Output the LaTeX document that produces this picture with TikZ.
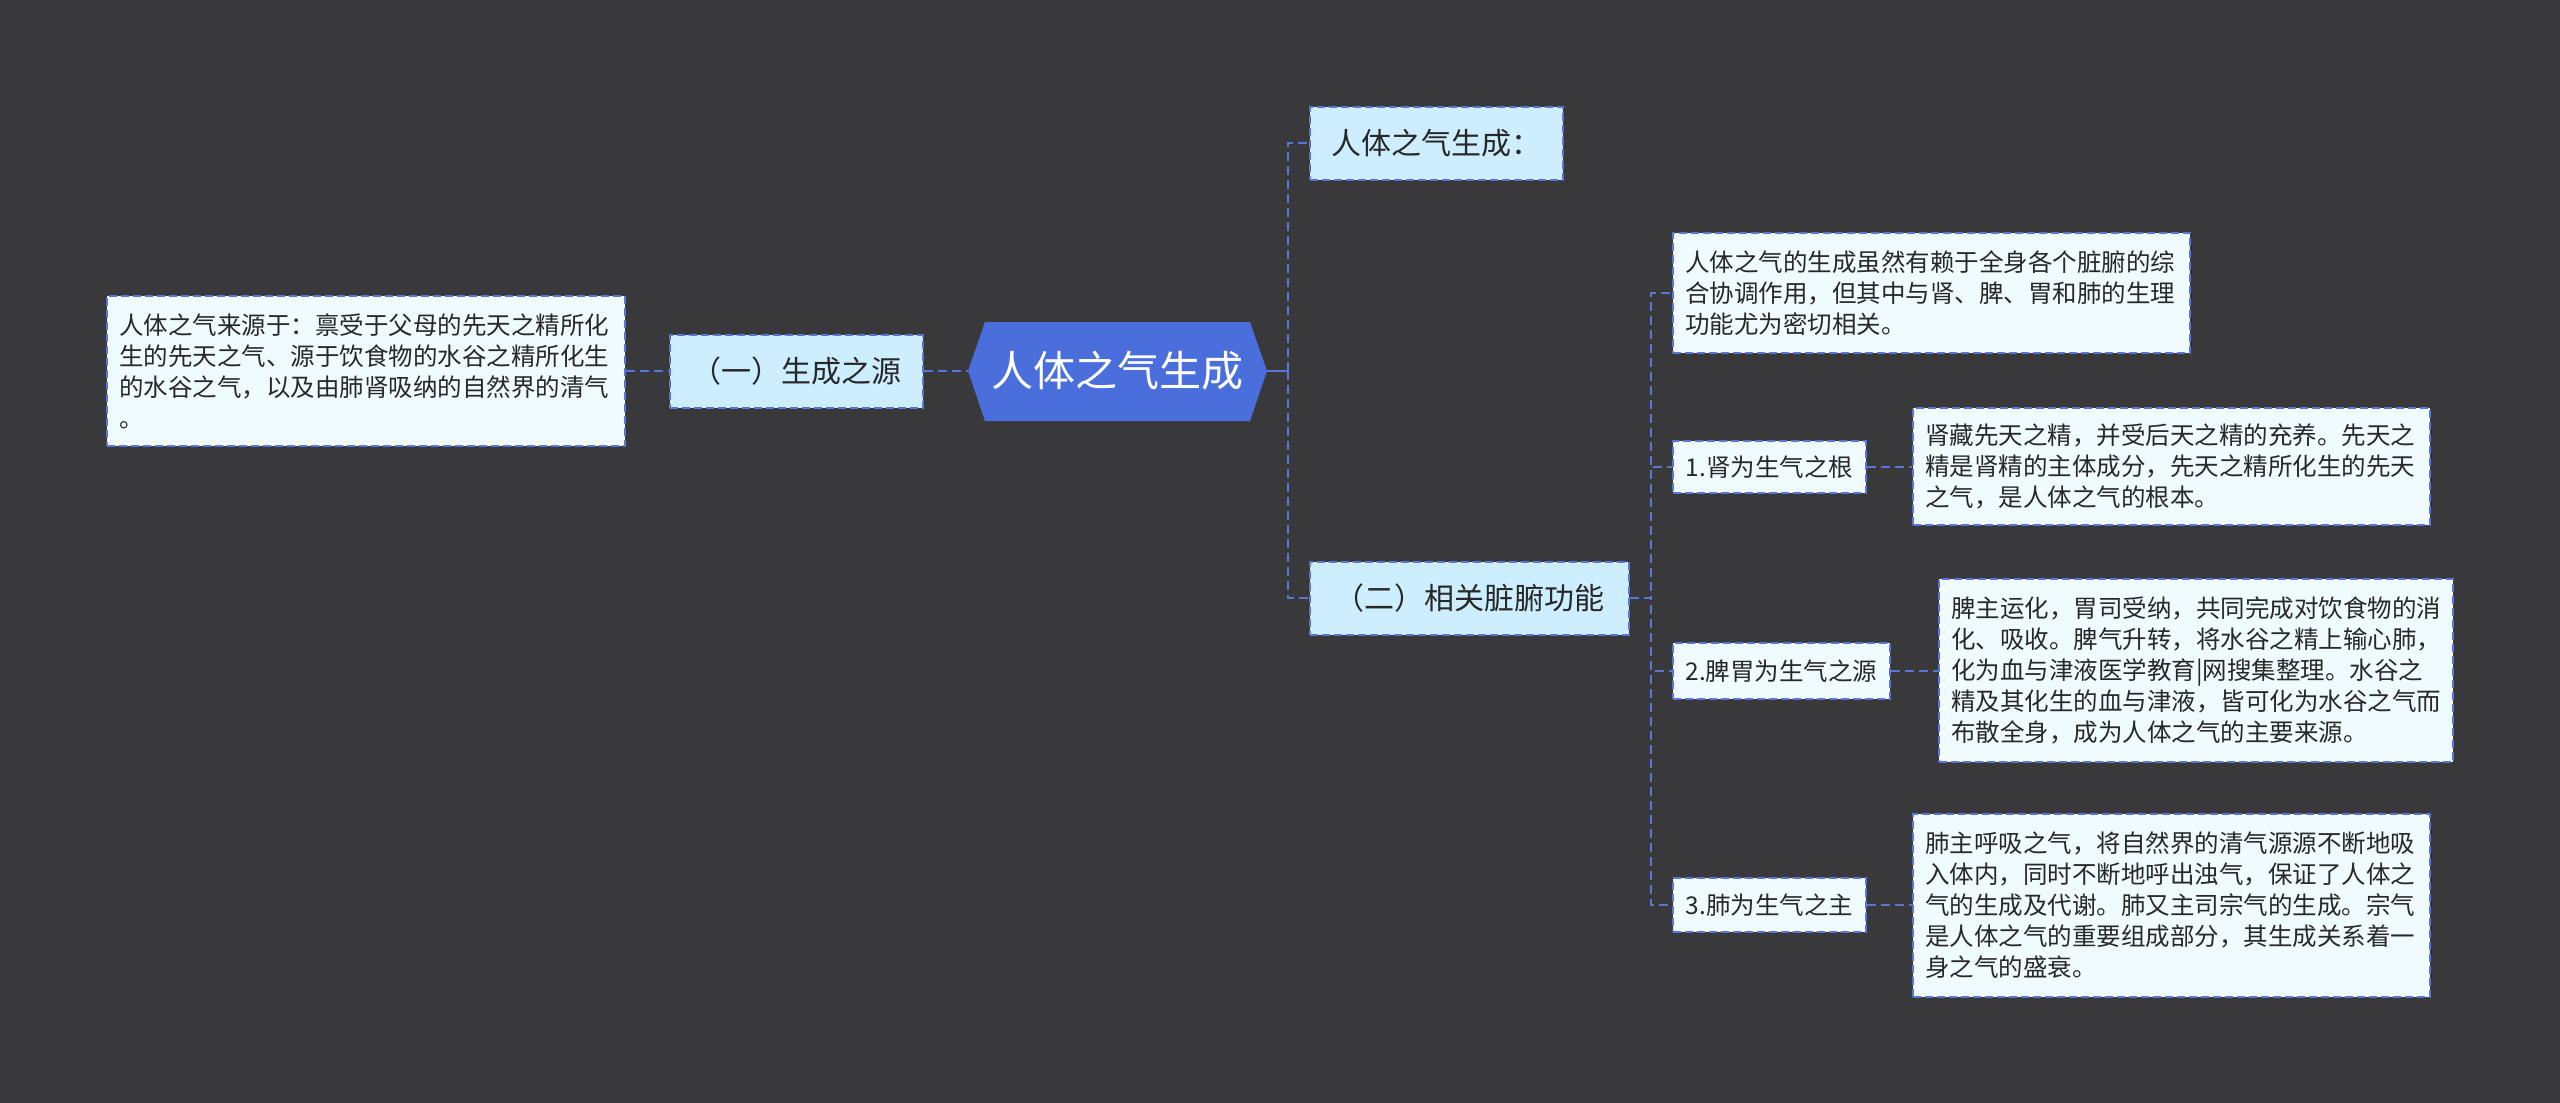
\documentclass[tikz,border=0pt]{standalone}
\usepackage{fontspec}
\setmainfont{Noto Sans CJK SC}
\definecolor{bg}{RGB}{57,56,58}
\definecolor{rootblue}{RGB}{75,110,221}
\definecolor{edge}{RGB}{88,118,216}
\definecolor{branchfill}{RGB}{204,238,255}
\definecolor{leaffill}{RGB}{240,251,255}
\definecolor{ink}{RGB}{40,40,40}

\begin{document}
\begin{tikzpicture}[x=1pt, y=-1pt,
  branch/.style={draw=edge, fill=branchfill, line width=2pt, dash pattern=on 8pt off 4pt, text=ink, font=\fontsize{30}{36}\selectfont, inner sep=0pt, minimum height=73pt, anchor=west},
  leaf/.style={draw=edge, fill=leaffill, line width=2pt, dash pattern=on 8pt off 4pt, text=ink, font=\fontsize{24.5}{31}\selectfont, align=left, inner xsep=12pt, inner ysep=0pt, anchor=west},
  link/.style={draw=edge, line width=2.2pt, dash pattern=on 9pt off 5pt}
]
\fill[bg] (0,0) rectangle (2560,1103);
\useasboundingbox (0,0) rectangle (2560,1103);
% root
\fill[rootblue] (968,371) -- (985,322) -- (1250,322) -- (1267,371) -- (1250,421) -- (985,421) -- cycle;
\node[font=\fontsize{42}{48}\selectfont, text=white, minimum width=299pt, minimum height=99pt, inner sep=0pt] (root) at (1117.5,371) {人体之气生成};
\coordinate (trunk) at (1288,371);
% left side
\node[branch, minimum width=253pt] (src) at (669,371) {（一）生成之源};
\node[leaf, text width=494pt, minimum height=150pt] (srctext) at (106,371) {人体之气来源于：禀受于父母的先天之精所化\\生的先天之气、源于饮食物的水谷之精所化生\\的水谷之气，以及由肺肾吸纳的自然界的清气\\。};
% right side
\node[branch, minimum width=253pt] (gen) at (1309,143) {人体之气生成：};
\node[branch, minimum width=319pt] (organ) at (1309,598) {（二）相关脏腑功能};
\node[leaf, text width=493pt, minimum height=120pt] (intro) at (1672,293) {人体之气的生成虽然有赖于全身各个脏腑的综\\合协调作用，但其中与肾、脾、胃和肺的生理\\功能尤为密切相关。};
\node[leaf, minimum width=193pt, minimum height=52pt] (kidney) at (1672,467) {1.肾为生气之根};
\node[leaf, text width=493pt, minimum height=117pt] (kidneytext) at (1912,466) {肾藏先天之精，并受后天之精的充养。先天之\\精是肾精的主体成分，先天之精所化生的先天\\之气，是人体之气的根本。};
\node[leaf, minimum width=217pt, minimum height=56pt] (spleen) at (1672,671) {2.脾胃为生气之源};
\node[leaf, text width=490pt, minimum height=183pt] (spleentext) at (1938,670) {脾主运化，胃司受纳，共同完成对饮食物的消\\化、吸收。脾气升转，将水谷之精上输心肺，\\化为血与津液医学教育|网搜集整理。水谷之\\精及其化生的血与津液，皆可化为水谷之气而\\布散全身，成为人体之气的主要来源。};
\node[leaf, minimum width=193pt, minimum height=54pt] (lung) at (1672,905) {3.肺为生气之主};
\node[leaf, text width=493pt, minimum height=183pt] (lungtext) at (1912,905) {肺主呼吸之气，将自然界的清气源源不断地吸\\入体内，同时不断地呼出浊气，保证了人体之\\气的生成及代谢。肺又主司宗气的生成。宗气\\是人体之气的重要组成部分，其生成关系着一\\身之气的盛衰。};
% links
\draw[link] (srctext.east) -- (src.west);
\draw[link] (src.east) -- (root.west);
\draw[link, solid] (root.east) -- (trunk);
\draw[link] (trunk) |- (gen.west);
\draw[link] (trunk) |- (organ.west);
\foreach \n in {intro,kidney,spleen,lung}
  \draw[link] (organ.east) -- ++(21,0) |- (\n.west);
\draw[link] (kidney.east) -- (kidney.east -| kidneytext.west);
\draw[link] (spleen.east) -- (spleen.east -| spleentext.west);
\draw[link] (lung.east) -- (lung.east -| lungtext.west);
\end{tikzpicture}
\end{document}
